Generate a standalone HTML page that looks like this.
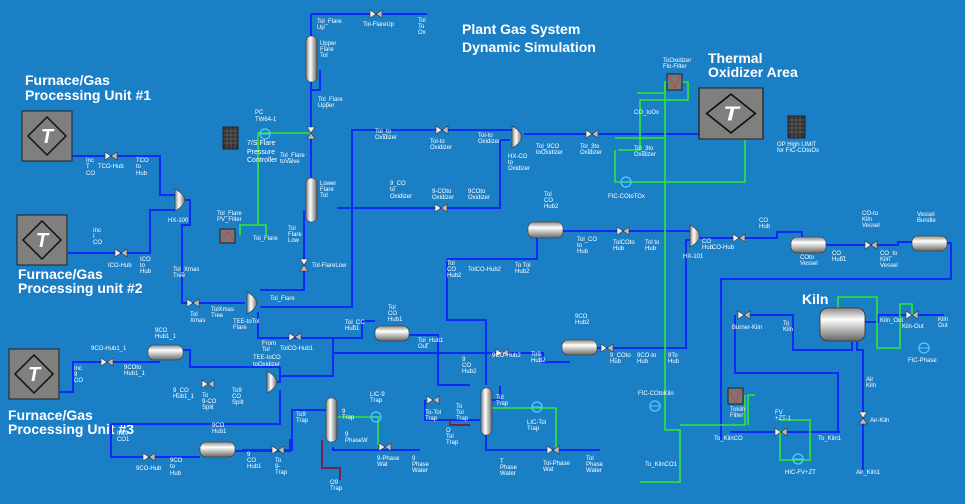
<!DOCTYPE html>
<html><head><meta charset="utf-8"><style>
body{margin:0;background:#1b7fc6;}
svg{display:block}
text{font-family:"Liberation Sans",sans-serif;fill:#fff}
.t{font-size:14px;font-weight:bold}
.s{font-size:6px}
.b{fill:none;stroke:#0c2cf5;stroke-width:2}
.g{fill:none;stroke:#2ee82e;stroke-width:1.6}
.r{fill:none;stroke:#7a2050;stroke-width:2}
</style></head><body>
<svg width="965" height="504" viewBox="0 0 965 504" xmlns="http://www.w3.org/2000/svg">
<defs>
<linearGradient id="vh" x1="0" y1="0" x2="0" y2="1"><stop offset="0" stop-color="#888"/><stop offset=".35" stop-color="#fff"/><stop offset="1" stop-color="#666"/></linearGradient>
<linearGradient id="vv" x1="0" y1="0" x2="1" y2="0"><stop offset="0" stop-color="#888"/><stop offset=".4" stop-color="#fff"/><stop offset="1" stop-color="#666"/></linearGradient>
<g id="valve"><polygon points="-6,-4 0,0 -6,4" fill="#eee" stroke="#333" stroke-width=".6"/><polygon points="6,-4 0,0 6,4" fill="#bbb" stroke="#333" stroke-width=".6"/></g>
<g id="vvalve"><polygon points="-4,-6 0,0 4,-6" fill="#eee" stroke="#333" stroke-width=".6"/><polygon points="-4,6 0,0 4,6" fill="#bbb" stroke="#333" stroke-width=".6"/></g>
<g id="hx"><path d="M0,-11 Q9,-6 10,0 Q9,6 0,11 Z" fill="url(#vv)" stroke="#333" stroke-width=".6"/></g>
<g id="unit"><rect x="0" y="0" width="50" height="50" fill="#7f7f7f" stroke="#222"/><polygon points="25,6 44,25 25,44 6,25" fill="none" stroke="#111" stroke-width="1.5"/><text x="25" y="32" font-size="20" font-style="italic" font-weight="bold" text-anchor="middle">T</text></g>
<g id="pc"><ellipse cx="0" cy="0" rx="5" ry="5" fill="none" stroke="#5cf" stroke-width="1.2"/><line x1="-5" y1="0" x2="5" y2="0" stroke="#5cf"/></g>
</defs>

<text class="t" x="462" y="34">Plant Gas System</text>
<text class="t" x="462" y="52">Dynamic Simulation</text>
<text class="t" x="708" y="63">Thermal</text>
<text class="t" x="708" y="77">Oxidizer Area</text>
<text class="t" x="25" y="85">Furnace/Gas</text>
<text class="t" x="25" y="100">Processing Unit #1</text>
<text class="t" x="18" y="279">Furnace/Gas</text>
<text class="t" x="18" y="293">Processing unit #2</text>
<text class="t" x="8" y="420">Furnace/Gas</text>
<text class="t" x="8" y="434">Processing Unit #3</text>
<text class="t" x="802" y="304" font-size="16">Kiln</text>

<path class="b" d="M71,156 H160 V195 H175"/>
<path class="b" d="M68,253 H150 V210 H175"/>
<path class="b" d="M185,200 H190 V225 H182 V303 H245"/>
<path class="b" d="M311,14 H427"/>
<path class="b" d="M311,14 V40"/>
<path class="b" d="M311,80 V90 H320 V70"/>
<path class="b" d="M311,90 V180"/>
<path class="b" d="M304,210 V290 H260"/>
<path class="b" d="M260,307 H352 V130 H512"/>
<path class="b" d="M337,208 H500 V140 H510"/>
<path class="b" d="M524,134 H700"/>
<path class="b" d="M258,312 V338 H362 V321 H375"/>
<path class="b" d="M408,335 H438 V385 H470"/>
<path class="b" d="M333,353 H543 V362 H570"/>
<path class="b" d="M596,348 H686 V240 H690"/>
<path class="b" d="M447,259 H537 V238"/>
<path class="b" d="M447,259 V320 H486 V385"/>
<path class="b" d="M563,231 H690"/>
<path class="b" d="M695,238 H777 V232 H802 V237"/>
<path class="b" d="M826,245 H898 V242 H912"/>
<path class="b" d="M947,243 H951 V279 H721 V440"/>
<path class="b" d="M176,350 H190 V367 H280"/>
<path class="b" d="M272,382 H280 V367"/>
<path class="b" d="M60,392 H73 V362 H160"/>
<path class="b" d="M280,376 H333 V337"/>
<path class="b" d="M111,424 H280 V390"/>
<path class="b" d="M111,424 V457 H200"/>
<path class="b" d="M235,451 H290 V440 H293 H293"/>
<path class="b" d="M242,450 H292 V410 H326"/>
<path class="b" d="M333,447 V450 H420"/>
<path class="b" d="M425,400 V420 H480"/>
<path class="b" d="M486,433 V450 H600"/>
<path class="b" d="M490,400 H500 V386"/>
<path class="b" d="M745,315 H793 V350 H852 V342"/>
<path class="b" d="M735,315 V373 H838 V432 H740"/>
<path class="b" d="M864,322 H878 V315 H944"/>
<path class="b" d="M857,342 V350 H863 V470"/>
<path class="b" d="M730,432 H840"/>
<path class="r" d="M322,440 V468 H340 V480"/>
<path class="r" d="M450,420 V425 H470"/>

<path class="g" d="M311,133 H258 V225 H240 V235"/>
<path class="g" d="M258,225 H266 V235"/>
<path class="g" d="M336,417 H378 V445"/>
<path class="g" d="M492,408 H556 V450"/>
<path class="g" d="M618,150 H640 V100 H688 V82 H665 V93 H637"/>
<path class="g" d="M665,82 V138 H615"/>
<path class="g" d="M615,150 V182 H745 V140"/>
<path class="g" d="M665,138 V430 H680 V482 H640"/>
<path class="g" d="M680,425 H745 V395"/>
<path class="g" d="M755,395 H748 V425"/>
<path class="g" d="M780,430 V460 H810 V420 H780"/>
<path class="g" d="M838,308 V297 H877 V348 H900 V304 H912 V315"/>

<use href="#valve" x="111" y="156"/><use href="#valve" x="121" y="253"/>
<use href="#valve" x="376" y="14"/><use href="#vvalve" x="311" y="133"/>
<use href="#vvalve" x="304" y="265"/>
<use href="#valve" x="442" y="130"/><use href="#valve" x="441" y="208"/>
<use href="#valve" x="592" y="134"/><use href="#valve" x="623" y="231"/>
<use href="#valve" x="739" y="238"/><use href="#valve" x="871" y="245"/>
<use href="#valve" x="193" y="303"/><use href="#valve" x="295" y="337"/>
<use href="#valve" x="107" y="362"/><use href="#valve" x="208" y="384"/>
<use href="#valve" x="149" y="457"/><use href="#valve" x="278" y="450"/>
<use href="#valve" x="385" y="447"/><use href="#valve" x="502" y="353"/>
<use href="#valve" x="607" y="348"/><use href="#valve" x="553" y="450"/>
<use href="#valve" x="433" y="400"/><use href="#valve" x="744" y="315"/>
<use href="#valve" x="912" y="315"/><use href="#valve" x="781" y="432"/>
<use href="#vvalve" x="863" y="418"/>

<use href="#hx" x="175" y="200"/><use href="#hx" x="247" y="303"/>
<use href="#hx" x="512" y="137"/><use href="#hx" x="690" y="236"/>
<use href="#hx" x="267" y="382"/>

<rect x="306" y="36" width="11" height="46" rx="5" fill="url(#vv)" stroke="#333" stroke-width=".6"/>
<rect x="306" y="178" width="11" height="44" rx="5" fill="url(#vv)" stroke="#333" stroke-width=".6"/>
<rect x="326" y="398" width="11" height="44" rx="5" fill="url(#vv)" stroke="#333" stroke-width=".6"/>
<rect x="481" y="388" width="11" height="47" rx="5" fill="url(#vv)" stroke="#333" stroke-width=".6"/>
<rect x="148" y="345" width="35" height="15" rx="6" fill="url(#vh)" stroke="#333" stroke-width=".6"/>
<rect x="200" y="442" width="35" height="15" rx="6" fill="url(#vh)" stroke="#333" stroke-width=".6"/>
<rect x="375" y="326" width="34" height="15" rx="6" fill="url(#vh)" stroke="#333" stroke-width=".6"/>
<rect x="528" y="222" width="35" height="16" rx="6" fill="url(#vh)" stroke="#333" stroke-width=".6"/>
<rect x="562" y="340" width="35" height="15" rx="6" fill="url(#vh)" stroke="#333" stroke-width=".6"/>
<rect x="791" y="237" width="35" height="16" rx="6" fill="url(#vh)" stroke="#333" stroke-width=".6"/>
<rect x="912" y="236" width="35" height="15" rx="6" fill="url(#vh)" stroke="#333" stroke-width=".6"/>
<rect x="820" y="308" width="45" height="33" rx="8" fill="url(#vh)" stroke="#333" stroke-width=".8"/>

<use href="#unit" x="22" y="111"/><use href="#unit" x="17" y="215"/><use href="#unit" x="9" y="349"/>
<g transform="translate(699,88) scale(1.28,1.02)"><use href="#unit"/></g>

<g fill="#333" stroke="#222">
<rect x="223" y="127" width="15" height="22"/><rect x="788" y="116" width="17" height="22"/>
</g>
<g stroke="#777" stroke-width=".5">
<path d="M223,131H238M223,135H238M223,139H238M223,143H238M227,127V149M231,127V149M235,127V149"/>
<path d="M788,120H805M788,124H805M788,128H805M788,132H805M792,116V138M796,116V138M800,116V138"/>
</g>
<rect x="220" y="229" width="15" height="14" fill="#777" stroke="#222"/><path d="M222,241 L228,231 L233,241" stroke="#e33" fill="none"/>
<rect x="667" y="74" width="15" height="16" fill="#777" stroke="#222"/><path d="M669,76 L675,88 L680,76" stroke="#e33" fill="none"/>
<rect x="728" y="388" width="15" height="16" fill="#777" stroke="#222"/><path d="M730,392 L736,402 L741,390" stroke="#e33" fill="none"/>
<use href="#pc" x="265" y="134"/><use href="#pc" x="626" y="182"/>
<use href="#pc" x="376" y="417"/><use href="#pc" x="537" y="407"/>
<use href="#pc" x="655" y="406"/><use href="#pc" x="798" y="459"/>
<use href="#pc" x="924" y="348"/>

<g class="s">
<text x="247" y="145" font-size="7">7/S Flare</text><text x="247" y="154" font-size="7">Pressure</text><text x="247" y="162" font-size="7">Controller</text>
<text x="255" y="114">PC</text><text x="255" y="121">TW64-1</text>
<text x="317" y="23">Tol_Flare</text><text x="317" y="29">Up</text><text x="363" y="26">Tol-FlareUp</text><text x="418" y="22">Tol</text><text x="418" y="28">To</text><text x="418" y="34">Ox</text>
<text x="320" y="45">Upper</text><text x="320" y="51">Flare</text><text x="320" y="57">Tol</text>
<text x="318" y="101">Tol_Flare</text><text x="318" y="107">Upper</text>
<text x="280" y="157">Tol_Flare</text><text x="280" y="163">toValve</text>
<text x="320" y="185">Lower</text><text x="320" y="191">Flare</text><text x="320" y="197">Tol</text>
<text x="217" y="215">Tol_Flare</text><text x="217" y="221">PV_Filter</text><text x="253" y="240">Tol_Flare</text>
<text x="288" y="230">Tol</text><text x="288" y="236">Flare</text><text x="288" y="242">Low</text>
<text x="312" y="267">Tol-FlareLow</text><text x="270" y="300">Tol_Flare</text>
<text x="86" y="162">Inc</text><text x="86" y="168">T</text><text x="86" y="175">CO</text><text x="98" y="168">TCO-Hub</text>
<text x="136" y="162">TCO</text><text x="136" y="168">to</text><text x="136" y="175">Hub</text>
<text x="93" y="232">Inc</text><text x="93" y="238">I</text><text x="93" y="244">CO</text>
<text x="108" y="267">ICO-Hub</text><text x="140" y="261">ICO</text><text x="140" y="267">to</text><text x="140" y="273">Hub</text>
<text x="168" y="222">HX-100</text><text x="173" y="271">Tol_Xmas</text><text x="173" y="277">Tree</text>
<text x="190" y="316">Tol</text><text x="190" y="322">Xmas</text><text x="211" y="311">TolXmas</text><text x="211" y="317">Tree</text>
<text x="233" y="323">TEE-toTol</text><text x="233" y="329">Flare</text>
<text x="262" y="345">From</text><text x="262" y="351">Tol</text><text x="253" y="359">TEE-toCO</text><text x="253" y="366">toOxidizer</text>
<text x="280" y="350">TolCO-Hub1</text>
<text x="345" y="324">Tol_CC</text><text x="345" y="330">Hub1</text>
<text x="388" y="309">Tol</text><text x="388" y="315">CO</text><text x="388" y="321">Hub1</text>
<text x="418" y="342">Tol_Hub1</text><text x="418" y="348">Out</text>
<text x="375" y="133">Tol_to</text><text x="375" y="139">Oxidizer</text><text x="430" y="143">Tol-to</text><text x="430" y="149">Oxidizer</text>
<text x="478" y="137">Tol-to</text><text x="478" y="143">Oxidizer</text>
<text x="390" y="185">9_CO</text><text x="390" y="191">to</text><text x="390" y="198">Oxidizer</text>
<text x="432" y="193">9-COto</text><text x="432" y="199">Oxidizer</text><text x="468" y="193">9COto</text><text x="468" y="199">Oxidizer</text>
<text x="508" y="158">HX-CO</text><text x="508" y="164">to</text><text x="508" y="170">Oxidizer</text>
<text x="536" y="148">Tol_9CO</text><text x="536" y="154">toOxidizer</text><text x="580" y="148">Tol_3to</text><text x="580" y="154">Oxidizer</text>
<text x="634" y="114">CO_toOx</text><text x="634" y="150">Tol_3to</text><text x="634" y="156">Oxidizer</text>
<text x="663" y="62">ToOxidizer</text><text x="663" y="68">Flo-Filter</text>
<text x="608" y="198">FIC-COtoTOx</text>
<text x="777" y="146">OP High LIMIT</text><text x="777" y="152">for FIC-COtoOx</text>
<text x="544" y="196">Tol</text><text x="544" y="202">CO</text><text x="544" y="208">Hub2</text>
<text x="577" y="241">Tol_CO</text><text x="577" y="247">to</text><text x="577" y="253">Hub</text>
<text x="613" y="244">TolCOto</text><text x="613" y="250">Hub</text><text x="645" y="244">Tol to</text><text x="645" y="250">Hub</text>
<text x="683" y="258">HX-101</text><text x="702" y="243">CO</text><text x="702" y="249">Hub</text><text x="712" y="249">CO-Hub</text>
<text x="759" y="222">CO</text><text x="759" y="228">Hub</text><text x="800" y="259">COto</text><text x="800" y="265">Vessel</text>
<text x="832" y="255">CO_</text><text x="832" y="261">Hub1</text>
<text x="862" y="215">CO-to</text><text x="862" y="221">Kiln</text><text x="862" y="227">Vessel</text>
<text x="880" y="255">CO_to</text><text x="880" y="261">Kiln</text><text x="880" y="267">Vessel</text>
<text x="917" y="216">Vessel</text><text x="917" y="222">Bundle</text>
<text x="447" y="265">Tol</text><text x="447" y="271">CO</text><text x="447" y="277">Hub2</text>
<text x="468" y="271">TolCO-Hub2</text><text x="515" y="267">To Tol</text><text x="515" y="273">Hub2</text>
<text x="462" y="361">9</text><text x="462" y="367">CO</text><text x="462" y="373">Hub2</text>
<text x="492" y="357">9CO-Hub2</text><text x="531" y="356">To9</text><text x="531" y="362">Hub2</text>
<text x="575" y="318">9CO</text><text x="575" y="324">Hub2</text>
<text x="610" y="357">9_COto</text><text x="610" y="363">Hub</text><text x="637" y="357">9CO-to</text><text x="637" y="363">Hub</text>
<text x="668" y="357">9To</text><text x="668" y="363">Hub</text>
<text x="155" y="332">9CO</text><text x="155" y="338">Hub1_1</text><text x="91" y="350">9CO-Hub1_1</text>
<text x="74" y="370">Inc</text><text x="74" y="376">9</text><text x="74" y="382">CO</text>
<text x="124" y="369">9COto</text><text x="124" y="375">Hub1_1</text>
<text x="173" y="392">9_CO</text><text x="173" y="398">Hub1_1</text><text x="202" y="397">To</text><text x="202" y="403">9-CO</text><text x="202" y="409">Split</text>
<text x="232" y="392">To9</text><text x="232" y="398">CO</text><text x="232" y="404">Split</text>
<text x="117" y="435">Inc9</text><text x="117" y="441">CO1</text><text x="136" y="470">9CO-Hub</text>
<text x="170" y="462">9CO</text><text x="170" y="468">to</text><text x="170" y="475">Hub</text>
<text x="212" y="427">9CO</text><text x="212" y="433">Hub1</text>
<text x="247" y="456">9</text><text x="247" y="462">CO</text><text x="247" y="468">Hub1</text>
<text x="275" y="462">To</text><text x="275" y="468">9-</text><text x="275" y="474">Trap</text>
<text x="296" y="416">To9</text><text x="296" y="422">Trap</text>
<text x="342" y="413">9</text><text x="342" y="419">Trap</text><text x="345" y="436">9</text><text x="345" y="442">PhaseW</text>
<text x="370" y="396">LIC-9</text><text x="370" y="402">Trap</text>
<text x="377" y="460">9-Phase</text><text x="377" y="466">Wat</text><text x="412" y="460">9</text><text x="412" y="466">Phase</text><text x="412" y="472">Water</text>
<text x="330" y="484">O9</text><text x="330" y="490">Trap</text>
<text x="425" y="414">To-Tol</text><text x="425" y="420">Trap</text><text x="456" y="408">To</text><text x="456" y="414">Tol</text><text x="456" y="420">Trap</text>
<text x="446" y="432">O</text><text x="446" y="438">Tol</text><text x="446" y="444">Trap</text>
<text x="496" y="399">Tol</text><text x="496" y="405">Trap</text><text x="527" y="424">LIC-Tol</text><text x="527" y="430">Trap</text>
<text x="500" y="463">T</text><text x="500" y="469">Phase</text><text x="500" y="475">Water</text>
<text x="543" y="465">Tol-Phase</text><text x="543" y="471">Wat</text><text x="586" y="460">Tol</text><text x="586" y="466">Phase</text><text x="586" y="472">Water</text>
<text x="638" y="395">FIC-COtoKiln</text><text x="645" y="466">To_KilnCO1</text>
<text x="732" y="329">Burner-Kiln</text><text x="783" y="325">To</text><text x="783" y="331">Kiln</text>
<text x="880" y="322">Kiln_Out</text><text x="902" y="328">Kiln-Out</text><text x="938" y="321">Kiln</text><text x="938" y="327">Out</text>
<text x="908" y="362">FIC-Phase</text>
<text x="730" y="411">Tokiln</text><text x="730" y="417">Filter</text><text x="714" y="440">To_KilnCO</text>
<text x="775" y="414">FV</text><text x="775" y="420">+ZT-1</text><text x="818" y="440">To_Kiln1</text>
<text x="785" y="474">HIC-FV+ZT</text>
<text x="866" y="381">Air</text><text x="866" y="387">Kiln</text><text x="870" y="422">Air-Kiln</text><text x="856" y="474">Air_Kiln1</text>
</g>
</svg>
</body></html>
